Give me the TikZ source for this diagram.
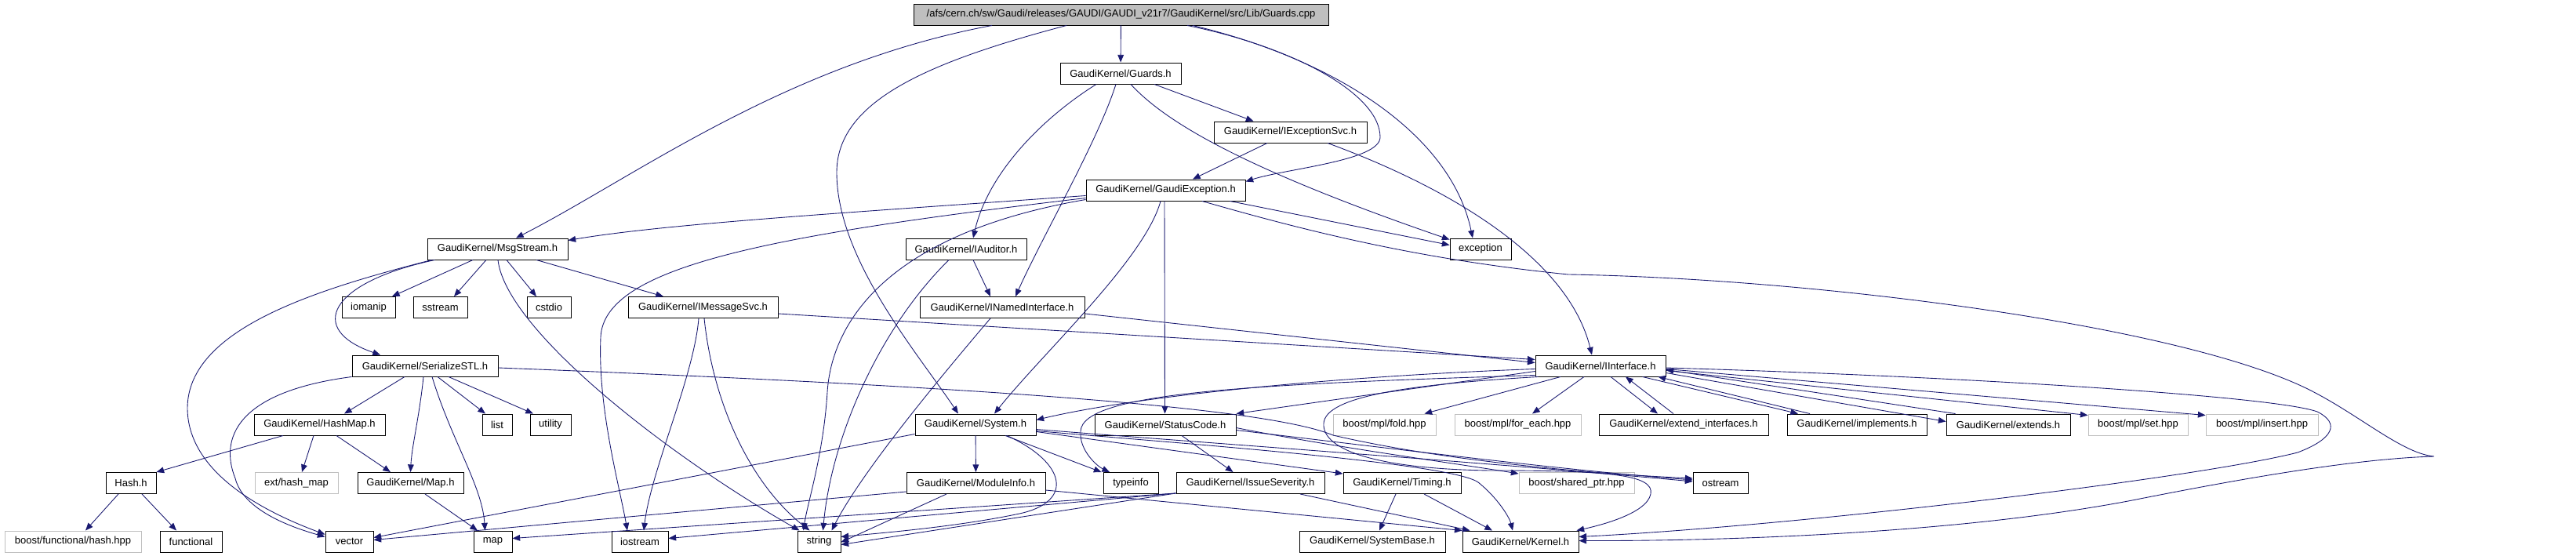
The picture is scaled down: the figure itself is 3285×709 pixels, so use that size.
\documentclass[tikz,border=0pt]{standalone}
\usepackage{fontspec}
\setmainfont{Liberation Sans}
\usetikzlibrary{arrows.meta}
\definecolor{edgeblue}{HTML}{191970}
\newcommand{\hdrfont}{\fontsize{7.4}{8.9}\selectfont}
\tikzstyle{hdr} = [rectangle, draw=black, line width=0.55pt, minimum height=0.54cm, inner sep=0pt, font=\hdrfont]
\tikzstyle{syshdr} = [hdr, draw=gray!50]
\tikzstyle{root} = [hdr, fill=gray!50]
\tikzstyle{arrow} = [draw=edgeblue, line width=0.5pt, -{Triangle[length=5.5pt,width=4.4pt]}]
\tikzset{wd/.style={minimum width=#1*0.02cm}}

\begin{document}
\begin{tikzpicture}[x=0.02cm, y=-0.02cm]
\useasboundingbox (0,0) rectangle (3285,709);

% include graph nodes
\node[root, wd=529] (cpp) at (1429.5,18.5) {/afs/cern.ch/sw/Gaudi/releases/GAUDI/GAUDI\_v21r7/GaudiKernel/src/Lib/Guards.cpp};
\node[hdr, wd=154] (guardsh) at (1429,93.5) {GaudiKernel/Guards.h};
\node[hdr, wd=195] (iexcsvc) at (1645.5,168.5) {GaudiKernel/IExceptionSvc.h};
\node[hdr, wd=203] (gexc) at (1486.5,242.5) {GaudiKernel/GaudiException.h};
\node[hdr, wd=78] (exception) at (1888,317.5) {exception};
\node[hdr, wd=154] (iauditor) at (1232,317.5) {GaudiKernel/IAuditor.h};
\node[hdr, wd=179] (msgstream) at (634.5,317.5) {GaudiKernel/MsgStream.h};
\node[hdr, wd=68] (iomanip) at (470,392) {iomanip};
\node[hdr, wd=69] (sstream) at (561.5,392) {sstream};
\node[hdr, wd=56] (cstdio) at (700,392) {cstdio};
\node[hdr, wd=191] (imsgsvc) at (896.5,392) {GaudiKernel/IMessageSvc.h};
\node[hdr, wd=210] (inamed) at (1278,392) {GaudiKernel/INamedInterface.h};
\node[hdr, wd=186] (serial) at (542,466.5) {GaudiKernel/SerializeSTL.h};
\node[hdr, wd=166] (iinterface) at (2041,466.5) {GaudiKernel/IInterface.h};
\node[hdr, wd=167] (hashmap) at (407.5,541.5) {GaudiKernel/HashMap.h};
\node[hdr, wd=38] (list) at (634,541.5) {list};
\node[hdr, wd=52] (utility) at (702,541.5) {utility};
\node[hdr, wd=154] (system) at (1244,541.5) {GaudiKernel/System.h};
\node[hdr, wd=180] (statuscode) at (1486,541.5) {GaudiKernel/StatusCode.h};
\node[syshdr, wd=131] (fold) at (1765.5,541.5) {boost/mpl/fold.hpp};
\node[syshdr, wd=161] (foreach) at (1935.5,541.5) {boost/mpl/for\_each.hpp};
\node[hdr, wd=216] (extendif) at (2147,541.5) {GaudiKernel/extend\_interfaces.h};
\node[hdr, wd=178] (implements) at (2368,541.5) {GaudiKernel/implements.h};
\node[hdr, wd=158] (extends) at (2561,541.5) {GaudiKernel/extends.h};
\node[syshdr, wd=127] (mplset) at (2726.5,541.5) {boost/mpl/set.hpp};
\node[syshdr, wd=143] (mplinsert) at (2884.5,541.5) {boost/mpl/insert.hpp};
\node[hdr, wd=64] (hash) at (167,616) {Hash.h};
\node[syshdr, wd=106] (exthashmap) at (378,616) {ext/hash\_map};
\node[hdr, wd=135] (gkmap) at (523.5,616) {GaudiKernel/Map.h};
\node[hdr, wd=177] (moduleinfo) at (1244.5,616) {GaudiKernel/ModuleInfo.h};
\node[hdr, wd=70] (typeinfo) at (1442,616) {typeinfo};
\node[hdr, wd=189] (issuesev) at (1594.5,616) {GaudiKernel/IssueSeverity.h};
\node[hdr, wd=150] (timing) at (1788,616) {GaudiKernel/Timing.h};
\node[syshdr, wd=147] (sharedptr) at (2010.5,616) {boost/shared\_ptr.hpp};
\node[hdr, wd=70] (ostream) at (2194,616) {ostream};
\node[syshdr, wd=174] (hashhpp) at (93,690.5) {boost/functional/hash.hpp};
\node[hdr, wd=79] (functional) at (243.5,690.5) {functional};
\node[hdr, wd=61] (vector) at (445.5,690.5) {vector};
\node[hdr, wd=49] (map) at (628.5,690.5) {map};
\node[hdr, wd=72] (iostream) at (816,690.5) {iostream};
\node[hdr, wd=55] (string) at (1044.5,690.5) {string};
\node[hdr, wd=186] (systembase) at (1750,690.5) {GaudiKernel/SystemBase.h};
\node[hdr, wd=148] (kernel) at (1939,690.5) {GaudiKernel/Kernel.h};

% Guards.cpp
\draw[arrow] (cpp) -- (guardsh);
\draw[arrow] ([shift={(-164.5,0)}]cpp.south) .. controls (1000,82) and (808,227) .. ([shift={(23.5,0)}]msgstream.north);
\draw[arrow] ([shift={(-69.5,0)}]cpp.south) .. controls (1180,80) and (1067,130) .. (1067,220) .. controls (1067,330) and (1170,450) .. ([shift={(-22,0)}]system.north);
\draw[arrow] ([shift={(84.5,0)}]cpp.south) .. controls (1650,60) and (1760,120) .. (1760,175) .. controls (1760,205) and (1640,215) .. ([shift={(0,3)}]gexc.north east);
\draw[arrow] ([shift={(91.5,0)}]cpp.south) .. controls (1700,75) and (1850,170) .. ([shift={(-10,0)}]exception.north);

% Guards.h
\draw[arrow] ([shift={(43,0)}]guardsh.south) -- ([shift={(-47,0)}]iexcsvc.north);
\draw[arrow] ([shift={(-31,0)}]guardsh.south) .. controls (1330,150) and (1260,220) .. ([shift={(9,0)}]iauditor.north);
\draw[arrow] ([shift={(-6,0)}]guardsh.south) .. controls (1400,180) and (1330,300) .. ([shift={(17,0)}]inamed.north);
\draw[arrow] ([shift={(13,0)}]guardsh.south) .. controls (1490,160) and (1600,220) .. ([shift={(0,2)}]exception.north west);

% IExceptionSvc.h
\draw[arrow] ([shift={(-29.5,0)}]iexcsvc.south) -- ([shift={(34.5,0)}]gexc.north);
\draw[arrow] ([shift={(47.5,0)}]iexcsvc.south) .. controls (1850,240) and (2000,330) .. ([shift={(-11,0)}]iinterface.north);

% GaudiException.h
\draw[arrow] ([shift={(0,7)}]gexc.west) .. controls (1100,270) and (850,285) .. ([shift={(0,3)}]msgstream.north east);
\draw[arrow] ([shift={(0,10)}]gexc.west) .. controls (980,300) and (770,340) .. (766,430) .. controls (762,520) and (790,620) .. ([shift={(-16,0)}]iostream.north);
\draw[arrow] ([shift={(0,12)}]gexc.west) .. controls (1120,300) and (1060,420) .. (1055,500) .. controls (1050,580) and (1030,640) .. ([shift={(-20,0)}]string.north);
\draw[arrow] ([shift={(-6.5,0)}]gexc.south) .. controls (1460,330) and (1330,450) .. ([shift={(24,0)}]system.north);
\draw[arrow] ([shift={(-1.5,0)}]gexc.south) -- ([shift={(-0.5,0)}]statuscode.north);
\draw[arrow] ([shift={(-20,0)}]gexc.south east) -- ([shift={(0,-5)}]exception.west);
\draw[arrow] ([shift={(46.5,0)}]gexc.south) .. controls (1650,290) and (1800,330) .. (2000,350) .. controls (2300,355) and (2750,410) .. (2930,490) .. controls (3000,521) and (3060,578) .. (3104,582) .. controls (3000,585) and (2850,612) .. (2719,638) .. controls (2500,680) and (2200,690) .. ([shift={(0,-1)}]kernel.east);

% MsgStream.h
\draw[arrow] ([shift={(-80,0)}]msgstream.south) .. controls (420,360) and (390,420) .. ([shift={(-57,0)}]serial.north);
\draw[arrow] ([shift={(6,0)}]msgstream.south west) .. controls (400,370) and (240,420) .. (239,520) .. controls (239,600) and (330,650) .. ([shift={(0,-9)}]vector.west);
\draw[arrow] ([shift={(-31.5,0)}]msgstream.south) -- ([shift={(30,0)}]iomanip.north);
\draw[arrow] ([shift={(-14.5,0)}]msgstream.south) -- ([shift={(17.5,0)}]sstream.north);
\draw[arrow] ([shift={(11.5,0)}]msgstream.south) -- ([shift={(-16,0)}]cstdio.north);
\draw[arrow] ([shift={(49.5,0)}]msgstream.south) -- ([shift={(-50.5,0)}]imsgsvc.north);
\draw[arrow] ([shift={(0.5,0)}]msgstream.south) .. controls (645,420) and (850,580) .. ([shift={(-25,0)}]string.north);

% IMessageSvc.h, IAuditor.h, INamedInterface.h
\draw[arrow] ([shift={(0,8)}]imsgsvc.east) -- ([shift={(0,-8)}]iinterface.west);
\draw[arrow] ([shift={(-5.5,0)}]imsgsvc.south) .. controls (885,480) and (830,600) .. ([shift={(5,0)}]iostream.north);
\draw[arrow] ([shift={(1.5,0)}]imsgsvc.south) .. controls (910,520) and (960,620) .. ([shift={(-12,0)}]string.north);
\draw[arrow] ([shift={(9,0)}]iauditor.south) -- ([shift={(-15,0)}]inamed.north);
\draw[arrow] ([shift={(-22,0)}]iauditor.south) .. controls (1120,420) and (1060,560) .. ([shift={(5,0)}]string.north);
\draw[arrow] ([shift={(0,8)}]inamed.east) -- ([shift={(0,-4)}]iinterface.west);
\draw[arrow] ([shift={(-15,0)}]inamed.south) .. controls (1200,480) and (1100,600) .. ([shift={(16,0)}]string.north);

% IInterface.h
\draw[arrow] ([shift={(0,4)}]iinterface.west) .. controls (1700,480) and (1450,505) .. ([shift={(0,-6)}]system.east);
\draw[arrow] ([shift={(0,7)}]iinterface.west) -- (statuscode.north east);
\draw[arrow] ([shift={(0,-2)}]iinterface.south west) .. controls (1600,490) and (1380,500) .. (1378,550) .. controls (1376,575) and (1400,595) .. ([shift={(-27,0)}]typeinfo.north);
\draw[arrow] ([shift={(-51,0)}]iinterface.south) -- ([shift={(-15,0)}]fold.north east);
\draw[arrow] ([shift={(-21,0)}]iinterface.south) -- ([shift={(18.5,0)}]foreach.north);
\draw[arrow] ([shift={(13,0)}]iinterface.south) -- ([shift={(-33,0)}]extendif.north);
\draw[arrow] ([shift={(-13,0)}]extendif.north) -- ([shift={(32,0)}]iinterface.south);
\draw[arrow] ([shift={(-30,0)}]iinterface.south east) -- ([shift={(-75,0)}]implements.north);
\draw[arrow] ([shift={(-60,0)}]implements.north) -- ([shift={(-10,0)}]iinterface.south east);
\draw[arrow] ([shift={(0,9)}]iinterface.east) -- ([shift={(0,-4)}]extends.west);
\draw[arrow] ([shift={(12,0)}]extends.north west) -- ([shift={(0,5)}]iinterface.east);
\draw[arrow] ([shift={(0,6)}]iinterface.east) -- ([shift={(0,2)}]mplset.north west);
\draw[arrow] ([shift={(0,4)}]iinterface.east) -- ([shift={(0,2)}]mplinsert.north west);
\draw[arrow] ([shift={(0,2.5)}]iinterface.east) .. controls (2500,480) and (2900,505) .. (2955,525) .. controls (2985,540) and (2975,560) .. (2930,577) .. controls (2800,610) and (2300,670) .. ([shift={(0,-6)}]kernel.east);
\draw[arrow] ([shift={(4,0)}]iinterface.south west) .. controls (1800,490) and (1690,505) .. (1688,540) .. controls (1686,575) and (1760,598) .. (1900,600) .. controls (2050,600) and (2110,605) .. (2105,630) .. controls (2100,655) and (2040,670) .. ([shift={(-3,0)}]kernel.north east);

% System.h
\draw[arrow] (system) -- (moduleinfo);
\draw[arrow] ([shift={(38,0)}]system.south) -- ([shift={(-2,0)}]typeinfo.north west);
\draw[arrow] ([shift={(0,-5)}]system.south east) -- ([shift={(0,2)}]timing.north west);
\draw[arrow] ([shift={(0,8)}]system.east) .. controls (1500,565) and (1850,590) .. (1885,615) .. controls (1910,635) and (1925,660) .. ([shift={(-10,0)}]kernel.north);
\draw[arrow] ([shift={(0,6)}]system.east) .. controls (1500,562) and (1900,590) .. ([shift={(0,-2)}]ostream.west);
\draw[arrow] ([shift={(40,0)}]system.south) .. controls (1360,590) and (1370,640) .. (1300,655) .. controls (1220,672) and (1120,680) .. ([shift={(0,-6)}]string.east);
\draw[arrow] ([shift={(0,12)}]system.west) -- ([shift={(0,-5)}]vector.east);

% ModuleInfo.h, StatusCode.h
\draw[arrow] ([shift={(0,9)}]moduleinfo.east) -- (kernel.north west);
\draw[arrow] ([shift={(-37.5,0)}]moduleinfo.south) -- ([shift={(0,1)}]string.east);
\draw[arrow] ([shift={(0,11)}]moduleinfo.west) -- ([shift={(0,-2)}]vector.east);
\draw[arrow] ([shift={(21,0)}]statuscode.south) -- ([shift={(-22,0)}]issuesev.north);
\draw[arrow] ([shift={(0,4)}]statuscode.east) .. controls (1700,570) and (1850,590) .. ([shift={(0,2)}]sharedptr.north west);
\draw[arrow] ([shift={(0,7)}]statuscode.east) .. controls (1800,575) and (2000,600) .. ([shift={(0,-4)}]ostream.west);

% SerializeSTL.h
\draw[arrow] ([shift={(-26,0)}]serial.south) -- ([shift={(31.5,0)}]hashmap.north);
\draw[arrow] ([shift={(-2,0)}]serial.south) .. controls (535,530) and (525,570) .. (gkmap.north);
\draw[arrow] ([shift={(9,0)}]serial.south) .. controls (575,560) and (615,620) .. ([shift={(-10,0)}]map.north);
\draw[arrow] ([shift={(16,0)}]serial.south) -- ([shift={(-15,0)}]list.north);
\draw[arrow] ([shift={(30,0)}]serial.south) -- ([shift={(-22,0)}]utility.north);
\draw[arrow] (serial.south west) .. controls (300,500) and (280,560) .. (300,610) .. controls (310,650) and (370,672) .. ([shift={(0,-6)}]vector.west);
\draw[arrow] ([shift={(0,2.5)}]serial.east) .. controls (1300,495) and (1620,522) .. (1700,555) .. controls (1850,590) and (2050,605) .. ([shift={(0,-6)}]ostream.west);

% HashMap.h, Hash.h, Map.h
\draw[arrow] ([shift={(-46.5,0)}]hashmap.south) -- (hash.north east);
\draw[arrow] ([shift={(-7.5,0)}]hashmap.south) -- ([shift={(7,0)}]exthashmap.north);
\draw[arrow] ([shift={(21.5,0)}]hashmap.south) -- ([shift={(-25.5,0)}]gkmap.north);
\draw[arrow] ([shift={(-16,0)}]hash.south) -- ([shift={(16,0)}]hashhpp.north);
\draw[arrow] ([shift={(14,0)}]hash.south) -- ([shift={(-18.5,0)}]functional.north);
\draw[arrow] ([shift={(18.5,0)}]gkmap.south) -- ([shift={(-19.5,0)}]map.north);

% IssueSeverity.h, Timing.h
\draw[arrow] ([shift={(0,-1)}]issuesev.south west) -- ([shift={(0,-4)}]map.east);
\draw[arrow] ([shift={(0,-1)}]issuesev.south west) -- ([shift={(0,-4)}]iostream.east);
\draw[arrow] ([shift={(0,-1)}]issuesev.south west) -- ([shift={(0,4)}]string.east);
\draw[arrow] ([shift={(63.5,0)}]issuesev.south) -- ([shift={(10,0)}]kernel.north west);
\draw[arrow] ([shift={(-8,0)}]timing.south) -- ([shift={(9,0)}]systembase.north);
\draw[arrow] ([shift={(28,0)}]timing.south) -- ([shift={(-36,0)}]kernel.north);
\end{tikzpicture}
\end{document}
